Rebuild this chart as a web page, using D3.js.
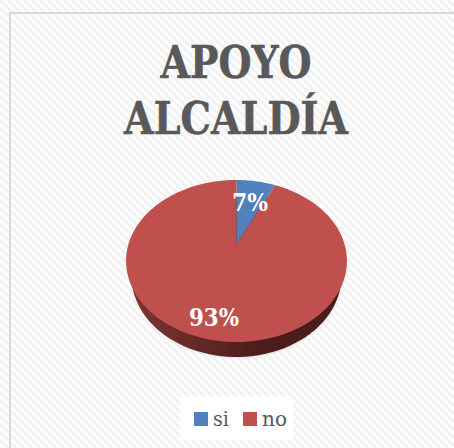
<!DOCTYPE html>
<html><head><meta charset="utf-8">
<script src="https://cdn.jsdelivr.net/npm/d3@7"></script>
<style>html,body{margin:0;padding:0;background:#fff}svg{display:block}</style>
</head><body><svg id="c" width="454" height="448"></svg>
<script>
const categories = ["si", "no"];
const values = [7, 93];
const labels = ["7%", "93%"];
const colors = ["#4f81bd", "#c0504d"];
const titleLines = ["APOYO", "ALCALDÍA"];
const font = "'DejaVu Serif Condensed', 'DejaVu Serif', serif";

const svg = d3.select("#c");
const defs = svg.append("defs");
const pat = defs.append("pattern").attr("id","stripes").attr("width",8).attr("height",8)
  .attr("patternUnits","userSpaceOnUse");
pat.append("rect").attr("width",8).attr("height",8).attr("fill","#fff");
pat.append("path").attr("d","M-2,-2L10,10M-2,6L2,10M6,-2L10,2")
  .attr("stroke","#f2f2f2").attr("stroke-width",3);
const sideGrad = defs.append("linearGradient").attr("id","side");
[[0,"#7d3431"],[0.3,"#652a27"],[0.6,"#4c1d1a"],[1,"#4a1c1a"]].forEach(([o,c])=>
  sideGrad.append("stop").attr("offset",o).attr("stop-color",c));
const blur = defs.append("filter").attr("id","soft").attr("x","-10%").attr("y","-10%").attr("width","120%").attr("height","120%");
blur.append("feGaussianBlur").attr("stdDeviation",1.5);

svg.append("rect").attr("width",454).attr("height",448).attr("fill","url(#stripes)");
svg.append("path").attr("d","M10,448V13H454").attr("fill","none").attr("stroke","#d9d9d9").attr("stroke-width",2);

const title = svg.append("text").attr("text-anchor","middle").attr("fill","#595959")
  .attr("stroke","#595959").attr("stroke-width",0.5)
  .attr("font-family",font).attr("font-weight","bold").attr("font-size",44);
const titleW=[151,224];
titleLines.forEach((t,i)=>title.append("tspan").attr("x",236).attr("y",78+i*56)
  .attr("textLength",titleW[i]).attr("lengthAdjust","spacingAndGlyphs").text(t));

// perspective view of the pie disc
const cx=236.5, apexY=244, k=0.21, sy=77.4, sx=108, depth=15, taper=0.95;
const project=(a,r=1)=>{const u=r*Math.sin(a),v=r*Math.cos(a),w=1+k*v;return [cx+sx*u/w,apexY-sy*v/w];};
const pie=d3.pie().sort(null).value(d=>d)(values);
const line=d3.line();
const range=(a,b,n=120)=>d3.range(n+1).map(i=>a+(b-a)*i/n);

const whole=range(0,2*Math.PI,200).map(a=>project(a));
const base=whole.map(([x,y])=>[cx+(x-cx)*taper,y+depth]);
svg.append("path").attr("d",line(base)+"Z").attr("fill","#888").attr("opacity",.4).attr("filter","url(#soft)");
svg.append("path").attr("d",line(base)+"Z").attr("fill","url(#side)");

pie.forEach((d,i)=>{
  const pts=[[cx,apexY]].concat(range(d.startAngle,d.endAngle).map(a=>project(a)));
  svg.append("path").attr("d",line(pts)+"Z").attr("fill",colors[i]);
});

const labelPos=[[250,211],[214,326]], labelW=[36,50];
svg.append("g").selectAll("text").data(labels).join("text")
  .attr("x",(d,i)=>labelPos[i][0]).attr("y",(d,i)=>labelPos[i][1])
  .attr("text-anchor","middle").attr("fill","#fff").attr("font-family",font)
  .attr("font-weight","bold").attr("font-size",24)
  .attr("textLength",(d,i)=>labelW[i]).attr("lengthAdjust","spacingAndGlyphs").text(d=>d);

svg.append("rect").attr("x",180).attr("y",396).attr("width",113).attr("height",44).attr("fill","#fff");
const legendX=[194,243], legendW=[16,25];
const lg=svg.append("g").selectAll("g").data(categories).join("g");
lg.append("rect").attr("x",(d,i)=>legendX[i]).attr("y",412).attr("width",14).attr("height",14).attr("fill",(d,i)=>colors[i]);
lg.append("text").attr("x",(d,i)=>legendX[i]+19).attr("y",426).attr("fill","#595959")
  .attr("font-family",font).attr("font-size",21)
  .attr("textLength",(d,i)=>legendW[i]).attr("lengthAdjust","spacingAndGlyphs").text(d=>d);
</script></body></html>
